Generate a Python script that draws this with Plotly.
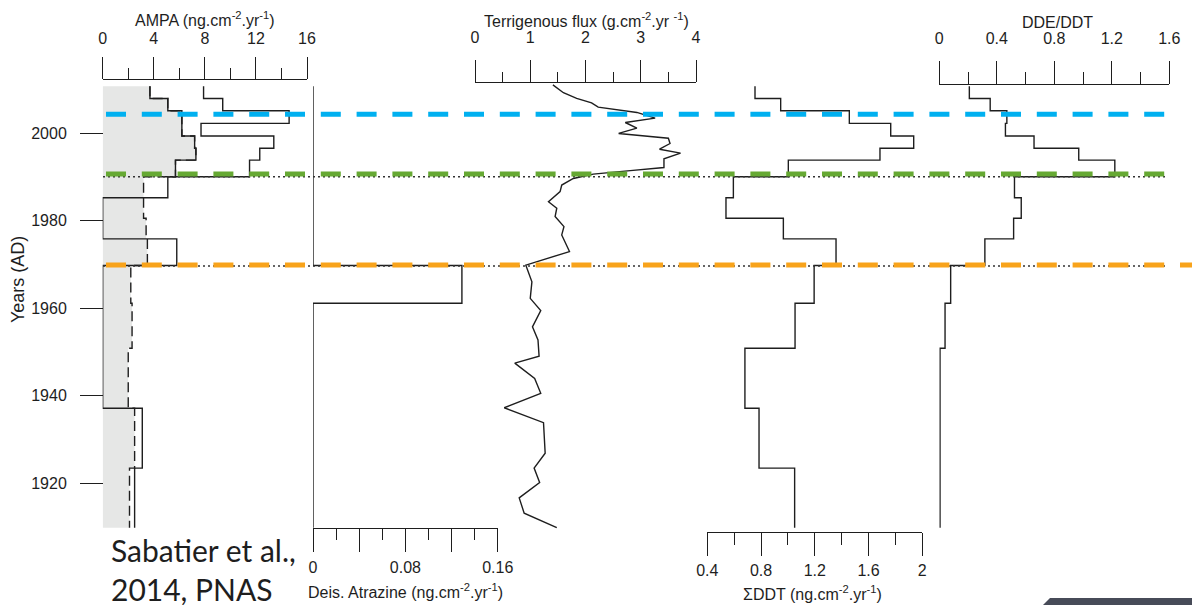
import plotly.graph_objects as go

W, H = 1192, 605
FONT = "Arial, 'Liberation Sans', sans-serif"
INK = "#1e1e1e"

# ---------------- data ----------------
# sediment layer tops (years AD), top -> bottom, and base of core
layer_tops = [2010.7, 2007.9, 2005.1, 2002.2, 1999.3, 1996.5, 1993.8, 1990.0,
              1985.2, 1980.5, 1975.8, 1969.7, 1961.1, 1950.8, 1937.1, 1923.4]
core_base = 1909.8

# AMPA panel (ng.cm-2.yr-1)
ampa_fill = [3.7, 5.1, 6.2, 6.2, 7.2, 7.3, 5.7, 3.2, 3.2, 3.4, 3.5, 2.2, 2.3, 2.0, 2.5, 2.1]
ampa_line = [3.7, 5.1, 6.2, 6.2, 7.2, 7.3, 5.7, 5.1, 0.0, 0.0, 5.8, 0.0, 0.0, 0.0, 3.1, 2.5]
ampa_upper = [7.9, 9.4, 14.6, 7.7, 13.4, 12.3, 11.5]

# Deisopropyl atrazine (ng.cm-2.yr-1)
atrazine = [0.0, 0.0, 0.0, 0.0, 0.0, 0.0, 0.0, 0.0, 0.0, 0.0, 0.0, 0.129, 0.0, 0.0, 0.0, 0.0]

# Sum DDT (ng.cm-2.yr-1) and DDE/DDT ratio
sum_ddt = [0.755, 0.946, 1.457, 1.765, 1.936, 1.685, 1.003, 0.594,
           0.539, 0.966, 1.358, 1.195, 1.053, 0.68, 0.785, 1.05]
dde_ddt = [0.209, 0.354, 0.47, 0.46, 0.659, 0.97, 1.221, 0.523,
           0.57, 0.517, 0.317, 0.079, 0.04, 0.005, 0.005, 0.005]

# Terrigenous flux (g.cm-2.yr-1)
terr_year = [2011.0, 2009.2, 2007.9, 2006.9, 2005.9, 2005.4, 2004.7, 2003.4, 2002.4, 2001.1,
             1999.9, 1998.8, 1997.6, 1996.3, 1995.4, 1994.1, 1992.1, 1991.4, 1990.6, 1989.6,
             1988.1, 1986.6, 1984.3, 1982.8, 1980.9, 1978.6, 1976.7, 1972.9, 1969.8, 1966.0,
             1962.2, 1959.4, 1955.7, 1952.7, 1949.0, 1947.4, 1943.9, 1940.5, 1937.2, 1933.8,
             1926.8, 1923.4, 1920.1, 1916.6, 1913.1, 1909.8]
terr_flux = [1.41, 1.60, 1.84, 2.11, 2.23, 2.56, 2.93, 3.26, 2.72, 2.93,
             2.60, 3.50, 3.53, 3.34, 3.72, 3.42, 3.42, 2.81, 2.14, 1.78,
             1.57, 1.54, 1.33, 1.48, 1.45, 1.61, 1.57, 1.71, 0.92, 1.03,
             1.00, 1.19, 1.04, 1.14, 1.16, 0.72, 1.08, 1.19, 0.53, 1.24,
             1.27, 1.07, 1.17, 0.80, 0.89, 1.48]

# event lines (years)
event_blue = 2004.3
event_green = 1990.65
event_orange = 1969.85
dotted_years = [1990.0, 1969.6]

# axis ticks
year_ticks = [1920, 1940, 1960, 1980, 2000]
ampa_ticks = [0, 4, 8, 12, 16]
ampa_minor = [2, 6, 10, 14]
atr_ticks = [0, 0.04, 0.08, 0.12, 0.16]
atr_text = ["0", "", "0.08", "", "0.16"]
atr_minor = [0.02, 0.06, 0.10, 0.14]
terr_ticks = [0, 1, 2, 3, 4]
terr_minor = [0.5, 1.5, 2.5, 3.5]
ddt_ticks = [0.4, 0.8, 1.2, 1.6, 2.0]
ddt_text = ["0.4", "0.8", "1.2", "1.6", "2"]
ddt_minor = [0.6, 1.0, 1.4, 1.8]
ratio_ticks = [0, 0.4, 0.8, 1.2, 1.6]
ratio_text = ["0", "0.4", "0.8", "1.2", "1.6"]
ratio_minor = [0.2, 0.6, 1.0, 1.4]


# ---------------- helpers ----------------
def px2year(py):
    return 2000 - (py - 133) / 4.375


def step_trace(values, tops, base, axis, end_value=None, dash="solid", fill=None):
    xs = list(values) + [values[-1] if end_value is None else end_value]
    ys = list(tops[:len(values)]) + [base]
    kw = {}
    if fill:
        kw = dict(fill="tozerox", fillcolor=fill)
    return go.Scatter(x=xs, y=ys, mode="lines", line_shape="vh",
                      line=dict(color=INK, width=1.4, dash=dash),
                      xaxis=axis, yaxis="y", hoverinfo="skip", showlegend=False, **kw)


def xax(dom, rng, side, pos, tickvals, ticktext, minor_vals, major_len, minor_len, standoff):
    return dict(domain=[dom[0] / W, dom[1] / W], range=rng, side=side, anchor="free",
                position=1 - pos / H, showline=True, linecolor=INK, linewidth=1.3,
                ticks="outside", ticklen=major_len, tickwidth=1.3, tickcolor=INK,
                tickvals=tickvals, ticktext=ticktext,
                minor=dict(tickvals=minor_vals, ticks="outside", ticklen=minor_len,
                           tickwidth=1.3, tickcolor=INK),
                showgrid=False, zeroline=False, fixedrange=True, automargin=False,
                tickfont=dict(family=FONT, size=16, color=INK),
                ticklabelstandoff=standoff)


fig = go.Figure()

# AMPA panel
fig.add_trace(step_trace(ampa_fill, layer_tops, core_base, "x", dash="10px,5px", fill="#e6e7e6"))
fig.add_trace(step_trace(ampa_line, layer_tops, core_base, "x"))
fig.add_trace(step_trace(ampa_upper, layer_tops, layer_tops[len(ampa_upper)], "x",
                         end_value=ampa_line[len(ampa_upper)]))
# atrazine
fig.add_trace(step_trace(atrazine, layer_tops, core_base, "x2"))
# terrigenous flux
fig.add_trace(go.Scatter(x=terr_flux, y=terr_year, mode="lines",
                         line=dict(color=INK, width=1.4), xaxis="x3", yaxis="y",
                         hoverinfo="skip", showlegend=False))
# DDT
fig.add_trace(step_trace(sum_ddt, layer_tops, core_base, "x4"))
fig.add_trace(step_trace(dde_ddt, layer_tops, core_base, "x5"))

shapes = []
for yr in dotted_years:
    shapes.append(dict(type="line", xref="paper", yref="y", x0=103 / W, x1=1168 / W,
                       y0=yr, y1=yr, line=dict(color="#333333", width=1.4, dash="2px,3px")))
for yr, col, xend in [(event_blue, "#00b0f0", 1166), (event_green, "#66a933", 1166),
                      (event_orange, "#f8a31b", 1192)]:
    shapes.append(dict(type="line", xref="paper", yref="y", x0=106 / W, x1=xend / W,
                       y0=yr, y1=yr, line=dict(color=col, width=5, dash="20px,15.8px")))
# slide decoration bottom-right
shapes.append(dict(type="path", xref="paper", yref="paper",
                   path=f"M {1043 / W},0 L {1050 / W},{7 / H} L 1,{7 / H} L 1,0 Z",
                   fillcolor="#474b58", line=dict(width=0)))


def ann(text, x, y, size=16, family=FONT, xanchor="center", yanchor="middle", angle=0, align="center"):
    return dict(text=text, x=x / W, y=1 - y / H, xref="paper", yref="paper", showarrow=False,
                xanchor=xanchor, yanchor=yanchor, textangle=angle, align=align,
                font=dict(family=family, size=size, color=INK))


sup2 = "<sup>-2</sup>"
sup1 = "<sup>-1</sup>"
annotations = [
    ann(f"AMPA (ng.cm{sup2}.yr{sup1})", 205, 19),
    ann(f"Terrigenous flux (g.cm{sup2}.yr {sup1})", 586, 20),
    ann("DDE/DDT", 1057, 22),
    ann(f"Deis. Atrazine (ng.cm{sup2}.yr{sup1})", 405, 591),
    ann(f"ΣDDT (ng.cm{sup2}.yr{sup1})", 812, 593),
    ann("Years (AD)", 17.5, 279.5, size=18, angle=-90),
    ann("Sabatier et al.,<br>2014, PNAS", 109, 569, size=30, family="Lato, 'Open Sans', sans-serif",
        xanchor="left", align="left"),
]

fig.update_layout(
    width=W, height=H, autosize=False,
    margin=dict(l=0, r=0, t=0, b=0, pad=0, autoexpand=False),
    paper_bgcolor="white", plot_bgcolor="rgba(0,0,0,0)",
    showlegend=False,
    yaxis=dict(domain=[0, 1], range=[px2year(H), px2year(0)], anchor="free", position=103 / W,
               side="left", showline=False, showgrid=False, zeroline=False, automargin=False,
               ticks="outside", ticklen=23, tickwidth=1.3, tickcolor=INK,
               tickvals=year_ticks, fixedrange=True, ticklabelstandoff=10,
               tickfont=dict(family=FONT, size=16, color=INK)),
    xaxis=xax((102.7, 307), [0, 16], "top", 79.3, ampa_ticks, None, ampa_minor, 22, 11, 7),
    xaxis2=xax((313, 497.7), [0, 0.16], "bottom", 527.7, atr_ticks, atr_text, atr_minor, 23, 11, 2),
    xaxis3=xax((475, 696), [0, 4], "top", 82.3, terr_ticks, None, terr_minor, 22, 10, 11),
    xaxis4=xax((707.3, 922.3), [0.4, 2.0], "bottom", 532.3, ddt_ticks, ddt_text, ddt_minor, 23, 12, 0),
    xaxis5=xax((939.3, 1169.3), [0, 1.6], "top", 84.3, ratio_ticks, ratio_text, ratio_minor, 23, 12, 11),
    shapes=shapes,
    annotations=annotations,
)

fig.write_html("out.html")
